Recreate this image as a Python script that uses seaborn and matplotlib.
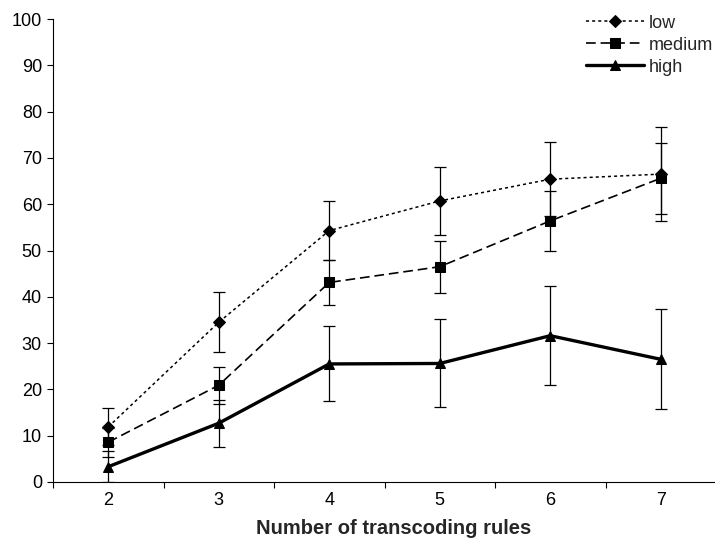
import pandas as pd
import matplotlib
matplotlib.use("Agg")
import matplotlib.pyplot as plt
import seaborn as sns
from matplotlib.ticker import FixedLocator

# values
rules = [2, 3, 4, 5, 6, 7]
low = [11.9, 34.5, 54.3, 60.7, 65.4, 66.5]
low_err = [4.0, 6.5, 6.3, 7.3, 8.0, 10.1]
medium = [8.6, 20.9, 43.1, 46.5, 56.4, 65.6]
medium_err = [3.1, 4.0, 4.9, 5.6, 6.5, 7.7]
high = [3.3, 12.7, 25.5, 25.6, 31.6, 26.5]
high_err = [3.3, 5.1, 8.1, 9.5, 10.7, 10.8]
y_ticks = list(range(0, 101, 10))

sns.set_theme(style="ticks")
plt.rcParams.update({
    "font.family": ["Liberation Sans", "DejaVu Sans"],
    "font.size": 13,
    "lines.scale_dashes": False,
    "axes.edgecolor": "black",
    "axes.linewidth": 0.8,
    "xtick.color": "black",
    "ytick.color": "black",
})

series = {
    "low": (low, low_err, dict(marker="D", markersize=6, linewidth=1.1, dashes=(2.2, 2.2))),
    "medium": (medium, medium_err, dict(marker="s", markersize=7, linewidth=1.2, dashes=(7, 3.5))),
    "high": (high, high_err, dict(marker="^", markersize=7, linewidth=2.4, dashes=())),
}

fig = plt.figure(figsize=(7.15, 5.38), dpi=100)
ax = fig.add_axes([53 / 715, 56 / 538, 663 / 715, 463 / 538])

for name, (vals, errs, st) in series.items():
    df = pd.DataFrame({"rules": rules, "value": vals})
    ax.errorbar(rules, vals, yerr=errs, fmt="none", ecolor="black",
                elinewidth=0.9, capsize=4.5, capthick=0.9, zorder=2)
    sns.lineplot(data=df, x="rules", y="value", color="black", label=name,
                 markeredgecolor="black", ax=ax, zorder=3, **st)

ax.set_xlim(1.5, 7.5)
ax.set_ylim(0, 100)
ax.set_yticks(y_ticks)
ax.set_xticks(rules)
ax.xaxis.set_minor_locator(FixedLocator([1.5, 2.5, 3.5, 4.5, 5.5, 6.5, 7.5]))
ax.tick_params(axis="x", which="major", length=0, pad=7, labelsize=13)
ax.tick_params(axis="x", which="minor", length=4, width=0.8, direction="out")
ax.tick_params(axis="y", length=4, width=0.8, pad=4, labelsize=13)
sns.despine(ax=ax)
ax.set_ylabel("")
ax.set_xlabel("")
fig.text(394 / 715, 1 - 528 / 538, "Number of transcoding rules", ha="center",
         va="center", fontsize=14.5, fontweight="bold")

ax.legend(loc="upper right", bbox_to_anchor=(1.013, 0.993), bbox_transform=fig.transFigure,
          frameon=False, handlelength=3.2, handletextpad=0.3, labelspacing=0.28,
          borderaxespad=0.2, fontsize=13, numpoints=1)

fig.savefig("out.png", dpi=100)
